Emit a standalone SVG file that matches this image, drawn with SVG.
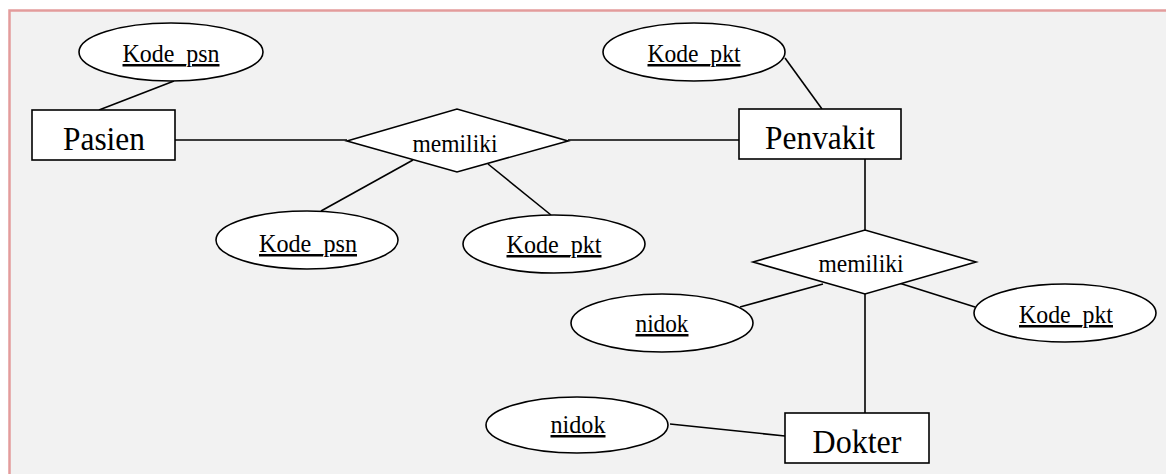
<svg xmlns="http://www.w3.org/2000/svg" width="1166" height="474" viewBox="0 0 1166 474">
<style>
.bg{fill:#f2f2f2;stroke:#e39c9c;stroke-width:2.5}
.ent{fill:#ffffff;stroke:#000;stroke-width:1.6}
.rel{fill:#ffffff;stroke:#000;stroke-width:1.6;stroke-linejoin:miter}
.att{fill:#ffffff;stroke:#000;stroke-width:1.6}
.conn line{stroke:#000;stroke-width:1.6}
.lbl text{fill:#000;text-anchor:middle}
.big{font-size:33px}
.small{font-size:25px}
.key{text-decoration:underline}
</style>
<rect width="1166" height="474" fill="#ffffff"/>
<rect class="bg" x="9.5" y="10.5" width="1170" height="480"/>
<g id="connectors" class="conn">
<line x1="174" y1="81" x2="99" y2="110"/>
<line x1="175" y1="140" x2="347" y2="140"/>
<line x1="568" y1="140" x2="739" y2="140"/>
<line x1="785" y1="58" x2="822" y2="109"/>
<line x1="413" y1="160" x2="321" y2="211"/>
<line x1="488" y1="164" x2="551" y2="215"/>
<line x1="865" y1="159" x2="865" y2="230"/>
<line x1="823" y1="284" x2="740" y2="307"/>
<line x1="899" y1="283" x2="975" y2="307"/>
<line x1="865" y1="294" x2="865" y2="413"/>
<line x1="670" y1="424" x2="785" y2="436"/>
</g>
<g class="lbl" font-family="'Liberation Serif', 'Times New Roman', serif">
<g id="attr-kode-psn-top">
<ellipse class="att" cx="171" cy="52" rx="92" ry="29"/>
<text class="small key" x="171" y="62" textLength="97" lengthAdjust="spacingAndGlyphs">Kode_psn</text>
</g>
<g id="attr-kode-pkt-top">
<ellipse class="att" cx="694" cy="52" rx="91" ry="29"/>
<text class="small key" x="694" y="62" textLength="93" lengthAdjust="spacingAndGlyphs">Kode_pkt</text>
</g>
<g id="ent-pasien">
<rect class="ent" x="32" y="110" width="143" height="50"/>
<text class="big" x="104" y="150" textLength="82" lengthAdjust="spacingAndGlyphs">Pasien</text>
</g>
<g id="ent-penvakit">
<rect class="ent" x="739" y="109" width="162" height="50"/>
<text class="big" x="820" y="149" textLength="110" lengthAdjust="spacingAndGlyphs">Penvakit</text>
</g>
<g id="rel-memiliki-1">
<polygon class="rel" points="347,141 457,109 568,141 457,172"/>
<text class="small" x="455" y="152" textLength="85" lengthAdjust="spacingAndGlyphs">memiliki</text>
</g>
<g id="attr-kode-psn-low">
<ellipse class="att" cx="307" cy="240" rx="91" ry="29"/>
<text class="small key" x="308" y="252" textLength="98" lengthAdjust="spacingAndGlyphs">Kode_psn</text>
</g>
<g id="attr-kode-pkt-low">
<ellipse class="att" cx="554" cy="244" rx="91" ry="29"/>
<text class="small key" x="554" y="253" textLength="95" lengthAdjust="spacingAndGlyphs">Kode_pkt</text>
</g>
<g id="rel-memiliki-2">
<polygon class="rel" points="753,262 865,230 976,262 865,294"/>
<text class="small" x="861" y="272" textLength="85" lengthAdjust="spacingAndGlyphs">memiliki</text>
</g>
<g id="attr-nidok-upper">
<ellipse class="att" cx="662" cy="323" rx="91" ry="29"/>
<text class="small key" x="662" y="332" textLength="53" lengthAdjust="spacingAndGlyphs">nidok</text>
</g>
<g id="attr-kode-pkt-right">
<ellipse class="att" cx="1065" cy="313" rx="91" ry="29"/>
<text class="small key" x="1066" y="323" textLength="94" lengthAdjust="spacingAndGlyphs">Kode_pkt</text>
</g>
<g id="attr-nidok-lower">
<ellipse class="att" cx="577" cy="425" rx="91" ry="28"/>
<text class="small key" x="578" y="433" textLength="55" lengthAdjust="spacingAndGlyphs">nidok</text>
</g>
<g id="ent-dokter">
<rect class="ent" x="785" y="413" width="144" height="50"/>
<text class="big" x="857" y="453" textLength="89" lengthAdjust="spacingAndGlyphs">Dokter</text>
</g>
</g>
</svg>
